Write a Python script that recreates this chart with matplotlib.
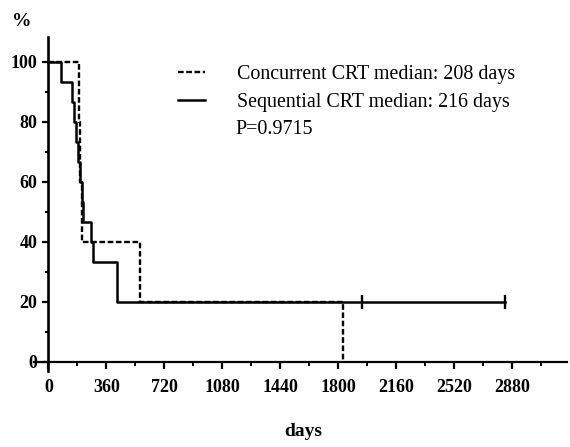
import matplotlib
matplotlib.use("Agg")
import matplotlib.pyplot as plt
from matplotlib.ticker import MultipleLocator

# Kaplan-Meier steps (days, % surviving)
seq_days = [0, 78, 144, 160, 172, 185, 195, 205, 216, 263, 278, 426, 2835]
seq_surv = [100, 93.3, 86.7, 80, 73.3, 66.7, 60, 53.3, 46.7, 40, 33.3, 20, 20]
seq_censor_days = [1950, 2835]
seq_censor_surv = [20, 20]

con_days = [0, 189, 198, 208, 566, 1830]
con_surv = [100, 80, 60, 40, 20, 0]

con_label = "Concurrent CRT median: 208 days"
seq_label = "Sequential CRT median: 216 days"
p_text = "P=0.9715"

xticks = [0, 360, 720, 1080, 1440, 1800, 2160, 2520, 2880]
yticks = [0, 20, 40, 60, 80, 100]

plt.rcParams['font.family'] = ['Liberation Serif', 'DejaVu Serif']

fig = plt.figure(figsize=(5.7, 4.47), dpi=100)
ax = fig.add_axes([34/570, 1-371/447, (567-34)/570, (371-37)/447])

ax.step(con_days, con_surv, where='post', color='black', lw=1.7,
        linestyle=(0, (2.4, 1.1)), label=con_label)
ax.step(seq_days, seq_surv, where='post', color='black', lw=1.8,
        label=seq_label)
ax.plot(seq_censor_days, seq_censor_surv, linestyle='none', marker='|',
        markersize=10, markeredgewidth=1.7, color='black')

ax.set_xlim(-90, 3220)
ax.set_ylim(-3, 108.3)

for s in ['top', 'right']:
    ax.spines[s].set_visible(False)
ax.spines['left'].set_position(('data', 0))
ax.spines['bottom'].set_position(('data', 0))
ax.spines['left'].set_linewidth(1.9)
ax.spines['bottom'].set_linewidth(1.6)

ax.set_xticks(xticks)
ax.set_yticks(yticks)
ax.xaxis.set_minor_locator(MultipleLocator(180))
ax.yaxis.set_minor_locator(MultipleLocator(10))
ax.tick_params(axis='x', which='major', direction='out', length=5, width=1.6,
               labelsize=13, pad=7)
ax.tick_params(axis='x', which='minor', direction='out', length=3, width=1.4)
ax.tick_params(axis='y', which='major', direction='out', length=4, width=1.6,
               labelsize=13, pad=4)
ax.tick_params(axis='y', which='minor', direction='out', length=2.5, width=1.4)
for lab in ax.get_xticklabels() + ax.get_yticklabels():
    lab.set_fontweight('bold')

leg = ax.legend(loc='upper left', bbox_to_anchor=(178/570, 1-65/447),
                bbox_transform=fig.transFigure, frameon=False,
                fontsize=14.4, handlelength=1.35, handletextpad=1.6,
                labelspacing=0.47, borderpad=0, borderaxespad=0)

fig.text(235/570, 1-130/447, p_text, fontsize=14.4, ha='left', va='center')
fig.text(22/570, 1-22/447, "%", fontsize=14, ha='center', va='center',
         fontweight='bold')
fig.text(303/570, 1-432/447, "days", fontsize=14, ha='center', va='center',
         fontweight='bold')

fig.savefig("out.png", dpi=100)
